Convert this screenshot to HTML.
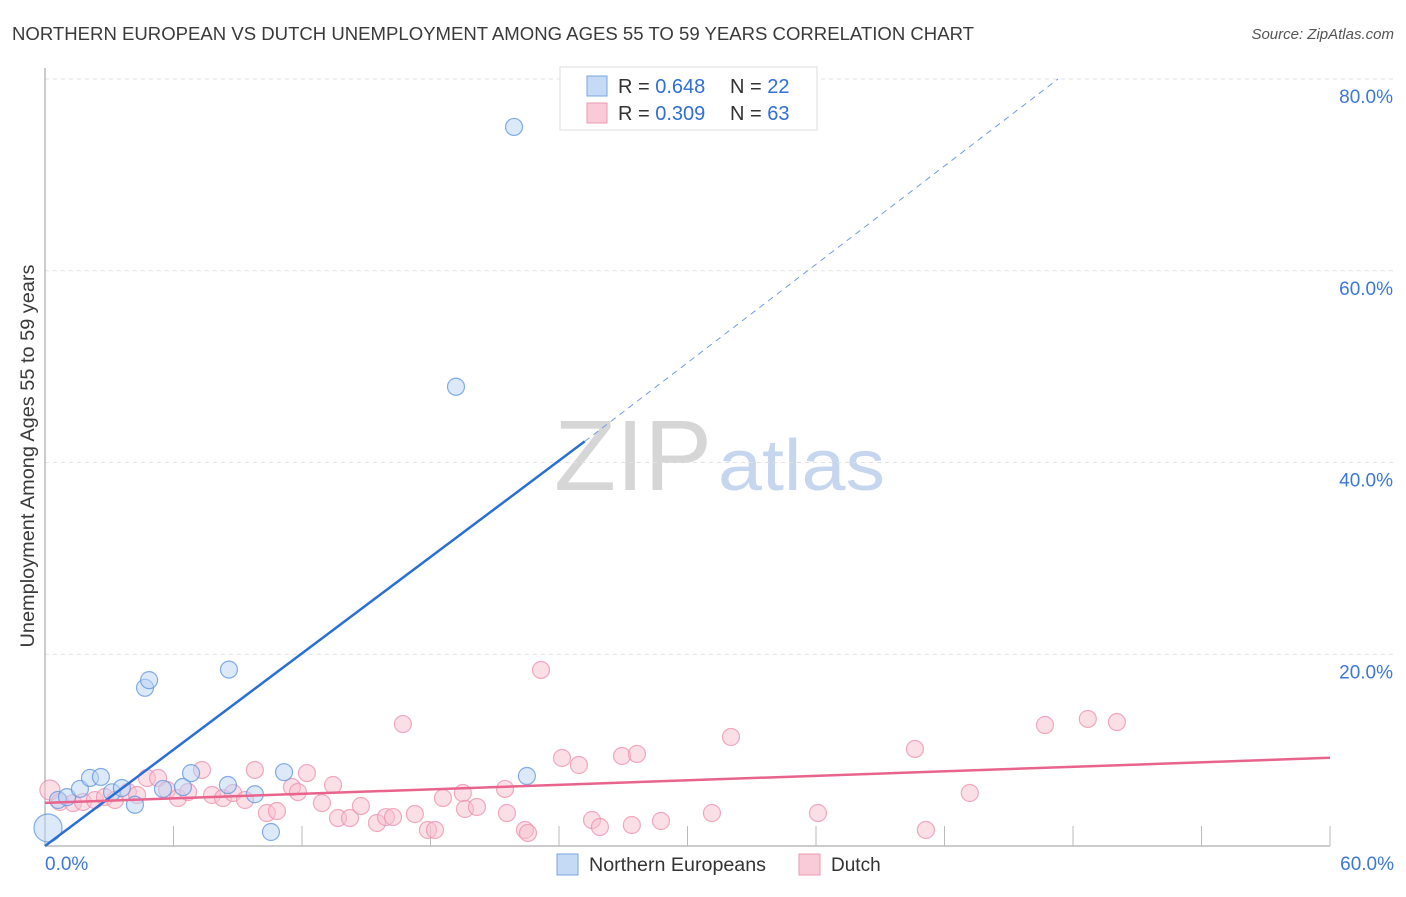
<!DOCTYPE html>
<html><head><meta charset="utf-8"><style>
body{margin:0;background:#fff;font-family:"Liberation Sans",sans-serif;}
svg text{font-family:"Liberation Sans",sans-serif;}
</style></head><body>
<svg id="chart" width="1406" height="892" viewBox="0 0 1406 892" xmlns="http://www.w3.org/2000/svg">
<text x="12" y="40" font-size="18" fill="#3a3a3a" textLength="962" lengthAdjust="spacingAndGlyphs">NORTHERN EUROPEAN VS DUTCH UNEMPLOYMENT AMONG AGES 55 TO 59 YEARS CORRELATION CHART</text>
<text x="1394" y="39" font-size="15" fill="#555" text-anchor="end" font-style="italic">Source: ZipAtlas.com</text>
<g>
<text x="554" y="490" font-size="100" fill="#d6d6d6" font-family="Liberation Serif,serif" textLength="158" lengthAdjust="spacingAndGlyphs">ZIP</text>
<text x="718" y="490" font-size="72" fill="#c5d6ee" textLength="167" lengthAdjust="spacingAndGlyphs">atlas</text>
</g>
<text transform="translate(34,456) rotate(-90)" font-size="19" fill="#3a3a3a" text-anchor="middle" textLength="383" lengthAdjust="spacingAndGlyphs">Unemployment Among Ages 55 to 59 years</text>
<g id="grid"></g>
<g id="axes"></g>
<g id="lines"></g>
<g id="points"></g>
<g>
<rect x="560" y="67" width="257" height="63" fill="#fff" stroke="#ddd"/>
<rect x="587" y="76" width="20" height="20" fill="#c5daf5" stroke="#7aa6e0"/>
<rect x="587" y="103" width="20" height="20" fill="#f9cbd8" stroke="#ec9ab3"/>
<text x="618" y="93" font-size="20" fill="#333">R = <tspan fill="#2f6fd6">0.648</tspan></text>
<text x="730" y="93" font-size="20" fill="#333">N = <tspan fill="#2f6fd6">22</tspan></text>
<text x="618" y="120" font-size="20" fill="#333">R = <tspan fill="#2f6fd6">0.309</tspan></text>
<text x="730" y="120" font-size="20" fill="#333">N = <tspan fill="#2f6fd6">63</tspan></text>
</g>
<g>
<rect x="557" y="854" width="21" height="21" fill="#c5daf5" stroke="#7aa6e0"/>
<text x="589" y="871" font-size="19" fill="#333" textLength="177" lengthAdjust="spacingAndGlyphs">Northern Europeans</text>
<rect x="799" y="854" width="21" height="21" fill="#f9cbd8" stroke="#ec9ab3"/>
<text x="831" y="871" font-size="19" fill="#333">Dutch</text>
</g>
</svg>
<script>
const yTicks=[20,40,60,80];
const yTickLabels=["20.0%","40.0%","60.0%","80.0%"];
const xTicks=[6,12,18,24,30,36,42,48,54,60];
const xEndLabels=["0.0%","60.0%"];
const blueX=[0.14,0.61,1.03,1.63,2.1,2.61,3.13,3.59,4.2,4.67,4.86,5.51,6.44,6.82,8.54,8.59,9.8,10.55,11.16,19.19,21.9,22.5];
const blueY=[1.88,4.8,5.1,5.95,7.1,7.2,5.6,6.05,4.3,16.5,17.3,5.95,6.15,7.6,6.36,18.4,5.4,1.46,7.7,47.9,75.0,7.3];
const pinkX=[0.23,0.7,1.31,1.77,2.33,2.8,3.27,3.87,4.3,4.76,5.28,5.7,6.21,6.68,7.33,7.8,8.31,8.78,9.34,9.8,10.36,10.83,11.53,11.81,12.23,12.93,13.45,13.68,14.24,14.75,15.5,15.92,16.25,16.71,17.27,17.88,18.21,18.58,19.51,19.61,20.17,21.48,21.57,22.41,22.55,23.16,24.14,24.93,25.54,25.91,26.94,27.4,27.64,28.76,31.14,32.03,36.09,40.62,41.13,43.18,46.69,48.69,50.05];
const pinkY=[5.84,4.59,4.48,4.59,4.8,5.11,4.8,5.63,5.32,7.09,7.09,5.84,5.0,5.63,7.93,5.32,5.0,5.53,4.8,7.93,3.44,3.65,6.15,5.63,7.61,4.48,6.36,2.92,2.92,4.17,2.4,3.02,3.02,12.72,3.34,1.67,1.67,5.0,5.53,3.86,4.07,5.95,3.44,1.67,1.36,18.36,9.18,8.45,2.71,1.98,9.39,2.19,9.6,2.61,3.44,11.37,3.44,10.12,1.67,5.53,12.62,13.25,12.93];
const blueTrend=[[0,0],[25.2,42.2],[47.3,80]];
const pinkTrend=[[0,4.5],[60,9.2]];
const NS='http://www.w3.org/2000/svg';
const X=v=>45+v*21.417, Y=v=>846-v*9.5875;
function mk(tag,attrs,parent){const e=document.createElementNS(NS,tag);for(const k in attrs)e.setAttribute(k,attrs[k]);parent.appendChild(e);return e;}
const grid=document.getElementById('grid'),axes=document.getElementById('axes'),lines=document.getElementById('lines'),pts=document.getElementById('points');
yTicks.forEach((t,i)=>{
 const l=mk('line',{x1:45,x2:1394,y1:Y(t),y2:Y(t),stroke:'#e2e2e2','stroke-dasharray':'4,4'},grid);
 
 
 const tx=mk('text',{x:1393,y:Y(t)+24,'font-size':19,fill:'#3b78d8','text-anchor':'end'},grid);
 tx.textContent=yTickLabels[i];
 
 
});
const ax=mk('line',{x1:45,x2:1330,y1:846,y2:846,stroke:'#bbb','stroke-width':1.5},axes);


const ay=mk('line',{x1:45,x2:45,y1:68,y2:846,stroke:'#bbb','stroke-width':1.5},axes);


xTicks.forEach(t=>{
 const l=mk('line',{x1:X(t),x2:X(t),y1:826,y2:846,stroke:'#bbb'},axes);
 
 
});
const xl0=mk('text',{x:45,y:870,'font-size':19,fill:'#3b78d8'},axes);xl0.textContent=xEndLabels[0];


const xl1=mk('text',{x:1394,y:870,'font-size':19,fill:'#3b78d8','text-anchor':'end'},axes);xl1.textContent=xEndLabels[1];


function addPts(xs,ys,fill,stroke,name){
 xs.forEach((x,i)=>{
  const r=(i===0)?(name==='northern-point'?14:10):8.5;
  const c=mk('circle',{cx:X(x),cy:Y(ys[i]),r:r,fill:fill,'fill-opacity':0.5,stroke:stroke,'stroke-opacity':0.75,'stroke-width':1.2},pts);
  
  
 });
}
addPts(pinkX,pinkY,'#f7bfd0','#ec90ad','dutch-point');
addPts(blueX,blueY,'#b9d3f3','#5d93dd','northern-point');
const b1=mk('line',{x1:X(blueTrend[0][0]),y1:Y(blueTrend[0][1]),x2:X(blueTrend[1][0]),y2:Y(blueTrend[1][1]),stroke:'#2a6fd6','stroke-width':2.5},lines);


const b2=mk('line',{x1:X(blueTrend[1][0]),y1:Y(blueTrend[1][1]),x2:X(blueTrend[2][0]),y2:Y(blueTrend[2][1]),stroke:'#6d9de3','stroke-width':1,'stroke-dasharray':'6,5'},lines);


const p1=mk('line',{x1:X(pinkTrend[0][0]),y1:Y(pinkTrend[0][1]),x2:X(pinkTrend[1][0]),y2:Y(pinkTrend[1][1]),stroke:'#e8648c','stroke-width':2.5},lines);


document.getElementById('chart').appendChild(lines);
</script>
</body></html>
